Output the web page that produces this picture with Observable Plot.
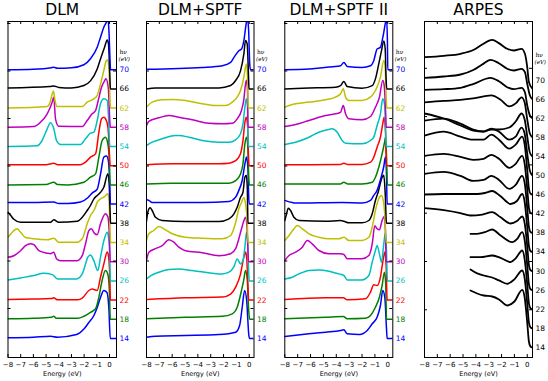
<!DOCTYPE html>
<html><head><meta charset="utf-8">
<script src="https://cdn.jsdelivr.net/npm/d3@7"></script>
<script src="https://cdn.jsdelivr.net/npm/@observablehq/plot@0.6"></script>
<style>
body{margin:0;background:#fff;}
#chart{position:relative;width:548px;height:381px;font-family:"DejaVu Sans",sans-serif;}
#chart > svg{position:absolute;top:0;overflow:visible;}
</style></head><body><div id="chart"></div>
<script>
// photon energies (eV), bottom to top
const hv = [14,18,22,26,30,34,38,42,46,50,54,58,62,66,70];
const lineColors = ["#0000ff","#008000","#ff0000","#00bfbf","#bf00bf","#bfbf00","#000000",
                    "#0000ff","#008000","#ff0000","#00bfbf","#bf00bf","#bfbf00","#000000","#0000ff"];
const energyTicks = [-8,-7,-6,-5,-4,-3,-2,-1,0];
const titles = ["DLM","DLM+SPTF","DLM+SPTF II","ARPES"];

// spectra: [energy (eV), intensity (a.u.)], one list per hv in the order above
const dlmCurves = [
 [[-8,0.7],[-6,1.3],[-4.65,2.3],[-4.1,1.3],[-2.6,4],[-2.0,9.7],[-1.63,16],[-1.23,23],[-0.97,31],[-0.71,41],[-0.45,48],[-0.2,46],[-0.05,30],[0.06,0],[0.6,0]],
 [[-8,0.5],[-6,1],[-4.6,2],[-4.39,3],[-4.2,1],[-2.5,1],[-2.02,3],[-1.5,7],[-1.1,10.5],[-0.84,22],[-0.58,39],[-0.32,48.8],[-0.13,45],[0.0,25],[0.06,0],[0.6,0]],
 [[-8,0.6],[-6,1],[-4.6,1.5],[-4.39,2.3],[-4.1,0.3],[-2.5,0.3],[-2.15,2],[-1.63,9.6],[-1.37,11],[-0.97,9.6],[-0.71,23],[-0.45,36],[-0.18,48],[-0.08,44],[0.03,20],[0.07,0],[0.6,0]],
 [[-8,1],[-7,3],[-5.96,5.3],[-5.2,7.7],[-4.5,6.3],[-4.1,2],[-2.6,2],[-2.15,7],[-1.89,17],[-1.71,23.7],[-1.5,26],[-1.23,20],[-0.92,10.4],[-0.71,23.7],[-0.45,40],[-0.18,48.7],[-0.08,44],[0.03,20],[0.07,0],[0.6,0]],
 [[-8,4.5],[-7.54,6],[-7.01,11],[-6.62,16],[-6.23,18],[-5.96,17],[-5.57,11],[-4.91,8.5],[-4.65,8],[-4.39,9.5],[-4.18,3],[-3.86,1],[-2.55,1],[-2.15,6],[-1.89,18],[-1.63,31],[-1.44,33],[-1.16,28],[-0.97,27],[-0.71,38],[-0.32,48],[-0.13,45],[0.0,22],[0.06,0],[0.6,0]],
 [[-8,5.3],[-7.67,10.3],[-7.28,13.7],[-7.01,10.3],[-6.62,5],[-5.96,3.7],[-4.91,2.7],[-4.39,4.3],[-4.0,0.3],[-2.55,0.3],[-2.15,3.7],[-1.76,18.7],[-1.5,27],[-1.16,33.7],[-0.97,40.3],[-0.71,43.7],[-0.45,45.3],[-0.13,48.7],[-0.03,40],[0.05,10],[0.08,0],[0.6,0]],
 [[-8,11],[-7.8,8],[-7.54,4],[-7.01,1],[-4.65,1],[-4.39,3.5],[-4.0,1],[-2.55,2],[-2.15,6],[-1.76,12.8],[-1.5,17.8],[-1.23,24.5],[-0.97,27.8],[-0.71,31],[-0.45,36],[-0.13,49.5],[-0.03,40],[0.05,10],[0.08,0],[0.6,0]],
 [[-8,1.6],[-6,1.5],[-4.39,2],[-4.0,0.5],[-3.3,0.5],[-2.29,2],[-1.71,6.3],[-1.37,11],[-0.97,15],[-0.71,30],[-0.45,47],[-0.24,48],[-0.1,44],[0.02,20],[0.07,0],[0.6,0]],
 [[-8,0],[-5,0.3],[-4.39,2.7],[-4.1,0.3],[-3.3,0],[-2.02,2.7],[-1.5,7.7],[-1.1,11],[-0.84,27.7],[-0.58,44.4],[-0.32,47.7],[-0.13,41],[0.0,20],[0.05,0],[0.6,0]],
 [[-8,1],[-5,1],[-4.39,2.5],[-4.1,1],[-2.3,1],[-1.89,3.5],[-1.5,8.5],[-1.1,11.8],[-0.84,33.5],[-0.63,47],[-0.45,48.5],[-0.24,45],[-0.1,35],[0.0,10],[0.05,0],[0.6,0]],
 [[-8,0],[-5.7,0.7],[-5.31,6],[-4.91,17.7],[-4.65,23.7],[-4.39,17.7],[-4.18,6],[-3.86,2],[-2.3,2],[-1.89,7.7],[-1.5,13.3],[-1.23,14.3],[-0.97,26],[-0.71,42.7],[-0.45,47.7],[-0.18,46],[-0.08,30],[0.02,0],[0.6,0]],
 [[-8,0],[-5.96,0.7],[-5.44,5],[-4.91,13.5],[-4.52,25],[-4.4,30],[-4.25,8],[-4.0,1],[-2.15,0.7],[-1.76,6.8],[-1.37,13.5],[-1.1,16.8],[-0.89,26.8],[-0.63,40],[-0.37,47],[-0.29,48.5],[-0.1,40],[0.03,5],[0.06,0],[0.6,0]],
 [[-8,0],[-4.91,1.6],[-4.7,5],[-4.52,14],[-4.42,17],[-4.3,8],[-4.15,1.5],[-3.5,1.5],[-2.15,1.5],[-1.76,6],[-1.23,9.3],[-0.97,12.6],[-0.71,24],[-0.45,37.6],[-0.24,47.6],[-0.13,48],[-0.03,35],[0.05,5],[0.08,0],[0.6,0]],
 [[-8,1],[-4.7,2.4],[-4.4,3],[-4.0,1.5],[-3,1],[-2.02,3.4],[-1.5,8],[-0.97,20],[-0.71,30],[-0.39,41.7],[-0.18,49],[-0.08,45],[0.02,15],[0.07,0],[0.6,0]],
 [[-8,0],[-6,0.5],[-4.6,2],[-4.4,2.5],[-4.1,1.5],[-3,2],[-2.02,5],[-1.5,11],[-0.97,22.5],[-0.71,32.5],[-0.45,42.5],[-0.24,48],[-0.15,52],[-0.05,40],[0.04,10],[0.08,0],[0.6,0]]
];

const sptfCurves = [
 [[-8,1.3],[-7.3,2.3],[-4.96,3],[-2.36,4],[-1.06,6.3],[-0.75,13],[-0.55,31],[-0.36,48],[-0.2,38],[-0.03,3],[0.03,0],[0.6,0]],
 [[-8,0.5],[-4.96,2],[-2.1,3],[-1.32,5.5],[-0.94,12],[-0.6,29],[-0.42,40],[-0.29,48.8],[-0.16,40],[-0.05,10],[0.03,0],[0.6,0]],
 [[-8,0.6],[-4.96,2.3],[-2.1,3],[-1.45,6],[-1.06,13],[-0.68,26],[-0.42,43],[-0.29,48],[-0.2,42],[-0.1,15],[-0.05,0],[0.6,0]],
 [[-8,2],[-7.69,5],[-7.04,8.7],[-6.26,11.3],[-5.48,12],[-4.44,10.3],[-2.88,7.7],[-2.1,7],[-1.58,8.7],[-1.19,14.3],[-0.94,22],[-0.68,17],[-0.49,20.3],[-0.34,33.7],[-0.21,48.7],[-0.12,40],[-0.05,10],[0.0,0],[0.6,0]],
 [[-8,1],[-7.82,9.5],[-7.3,13],[-6.78,16],[-6.26,22],[-5.87,19.5],[-5.48,14.5],[-4.96,11],[-3.66,9],[-2.36,6],[-1.45,8],[-1.06,13],[-0.81,23],[-0.6,33],[-0.42,41],[-0.29,44.5],[-0.18,35],[-0.1,10],[-0.06,0],[0.6,0]],
 [[-8,2],[-7.82,8.7],[-7.43,12],[-7.04,16],[-6.65,13.7],[-6,8.7],[-4.96,5.3],[-3.66,4.3],[-2.1,3.7],[-1.45,7],[-1.06,20],[-0.81,33.7],[-0.6,40],[-0.42,45],[-0.29,38.7],[-0.15,20],[-0.1,0],[0.6,0]],
 [[-8,2],[-7.88,12],[-7.72,15.5],[-7.56,12.8],[-7.3,6],[-6.78,2.8],[-4.96,1.8],[-2.36,1.8],[-1.58,4.5],[-1.19,9.5],[-0.94,16],[-0.68,26],[-0.49,31],[-0.34,46],[-0.23,48],[-0.15,35],[-0.1,0],[0.6,0]],
 [[-8,4.3],[-7.82,3.7],[-7.56,1.7],[-6.26,1.7],[-3.66,1.7],[-1.58,2.7],[-1.06,7],[-0.81,13.7],[-0.55,23.6],[-0.34,40],[-0.21,47],[-0.1,35],[-0.05,10],[0.0,0],[0.6,0]],
 [[-8,1],[-6,1.7],[-1.58,1.7],[-1.06,4.3],[-0.68,11],[-0.49,21],[-0.34,41],[-0.21,47.7],[-0.12,40],[-0.03,5],[0.01,0],[0.6,0]],
 [[-8,1],[-6,2],[-2.36,2],[-1.58,2.5],[-1.06,5],[-0.68,12],[-0.49,25],[-0.34,43.5],[-0.23,48.5],[-0.13,40],[-0.06,10],[-0.02,0],[0.6,0]],
 [[-8,1],[-7.56,4.3],[-6.78,7.7],[-5.74,11],[-5.48,11],[-4.7,9.3],[-3.66,6],[-2.36,4.3],[-1.58,4.3],[-1.06,6.7],[-0.68,12.7],[-0.49,22.7],[-0.34,39],[-0.23,47.7],[-0.14,40],[-0.1,10],[-0.05,0],[0.6,0]],
 [[-8,1.7],[-7.82,6],[-7.04,9.5],[-6.26,11.8],[-5.48,10],[-4.44,7.5],[-3.14,4],[-2.1,3.5],[-1.32,4],[-0.94,8.5],[-0.6,17],[-0.42,28],[-0.29,43.5],[-0.21,47],[-0.13,35],[-0.1,0],[0.6,0]],
 [[-8,1],[-7.56,6],[-6.78,8.3],[-6,8.6],[-4.96,7.6],[-3.66,4.3],[-2.62,2.6],[-1.84,2.6],[-1.32,6],[-0.94,11],[-0.68,17.6],[-0.42,31],[-0.29,41],[-0.21,44],[-0.13,30],[-0.08,0],[0.6,0]],
 [[-8,0],[-7.3,1],[-4.96,1],[-2.36,1],[-1.45,3.4],[-1.06,8.4],[-0.68,18],[-0.42,35],[-0.29,48.4],[-0.16,45],[-0.05,10],[-0.02,0],[0.6,0]],
 [[-8,0.5],[-3.66,2.3],[-2.1,4],[-1.45,7.3],[-1.19,12.3],[-0.81,19],[-0.6,20.7],[-0.42,29],[-0.25,45],[-0.15,52],[-0.05,40],[0.04,5],[0.1,0],[0.6,0]]
];

const sptf2Curves = [
 [[-8,2],[-6.12,4.7],[-4.83,6.3],[-3.67,8],[-3.41,8.7],[-3.15,4.7],[-2.2,4],[-1.6,8],[-1.21,14.7],[-0.83,21.3],[-0.57,33],[-0.39,48],[-0.23,41],[-0.1,10],[-0.05,0],[0.6,0]],
 [[-8,0.5],[-4.83,2],[-3.45,2.8],[-3.15,0.5],[-1.73,1],[-1.34,3.8],[-0.96,12],[-0.65,22],[-0.44,33.8],[-0.26,47],[-0.16,35],[-0.1,0],[0.6,0]],
 [[-8,0.6],[-4.83,2.3],[-3.45,2.3],[-3.15,0.3],[-1.73,1.3],[-1.34,8],[-1.09,15.3],[-0.83,14.6],[-0.57,23],[-0.39,38],[-0.23,48],[-0.13,35],[-0.05,0],[0.6,0]],
 [[-8,2],[-7.42,3.7],[-6.9,7],[-6.12,10.4],[-5.35,11],[-4.57,9.7],[-3.8,7],[-3.41,5.4],[-3.15,1],[-2,1],[-1.47,5.4],[-1.21,18.7],[-0.96,30.4],[-0.83,35.4],[-0.65,27],[-0.49,18.7],[-0.31,37],[-0.18,48.7],[-0.1,30],[-0.03,0],[0.6,0]],
 [[-8,1.2],[-7.67,6.2],[-7.16,9.5],[-6.64,14.5],[-6.25,21.2],[-5.87,17.8],[-5.35,11.2],[-4.57,7.9],[-3.67,7.9],[-3.41,7.2],[-3.15,2.9],[-2,2.9],[-1.47,6.2],[-1.21,17.9],[-1.01,36],[-0.83,32.9],[-0.65,31.9],[-0.44,41.2],[-0.28,45.2],[-0.18,30],[-0.13,0],[0.6,0]],
 [[-8,2],[-7.67,7],[-7.29,13.7],[-7.03,17],[-6.64,13.7],[-6.12,8.7],[-5.35,5.3],[-4.57,3.7],[-3.8,3.7],[-3.41,5.3],[-3.02,2],[-2,2],[-1.47,5.3],[-1.21,15.3],[-0.96,32],[-0.7,43.7],[-0.49,47],[-0.31,38.7],[-0.2,20],[-0.13,0],[0.6,0]],
 [[-8,2.8],[-7.86,9.5],[-7.73,15],[-7.55,12.8],[-7.29,6],[-6.9,2.8],[-4.83,2],[-3.67,2.8],[-3.41,2],[-3.02,0.5],[-2,0.5],[-1.47,2.8],[-1.21,9.5],[-0.96,22.8],[-0.75,31],[-0.44,46],[-0.31,48],[-0.2,30],[-0.1,0],[0.6,0]],
 [[-8,3.7],[-7.42,1.5],[-7.16,1],[-3.54,1.7],[-2,1],[-1.34,3.7],[-1.09,8.7],[-0.83,13.7],[-0.57,24.3],[-0.31,37.6],[-0.18,47],[-0.1,30],[-0.05,0],[0.6,0]],
 [[-8,1],[-3.7,1],[-3.41,2.7],[-3.1,1],[-2,1],[-1.21,2.7],[-0.96,7.7],[-0.7,17.7],[-0.44,31],[-0.23,44],[-0.18,47.7],[-0.1,30],[-0.03,0],[0.6,0]],
 [[-8,1],[-3.7,1.2],[-3.41,2.5],[-3.1,1.2],[-2,1.2],[-1.34,3.5],[-1.09,8.5],[-0.83,18.5],[-0.57,28.5],[-0.39,42],[-0.28,48.5],[-0.18,35],[-0.1,0],[0.6,0]],
 [[-8,2],[-7.16,4.3],[-6.12,9.3],[-5.35,14.3],[-4.7,16.7],[-4.32,17.7],[-3.93,14.3],[-3.54,6],[-3.28,3.3],[-2,2.7],[-1.34,6],[-1.09,9.3],[-0.83,21],[-0.57,32.7],[-0.39,47.7],[-0.25,42],[-0.15,10],[-0.12,0],[0.6,0]],
 [[-8,0.8],[-7.16,2.8],[-6.12,6.8],[-4.83,11.8],[-4.06,13.5],[-3.67,15],[-3.46,21.8],[-3.28,13.5],[-3.02,8.5],[-2,7.5],[-1.34,10.8],[-0.96,20],[-0.65,30],[-0.39,46.8],[-0.28,42],[-0.15,10],[-0.12,0],[0.6,0]],
 [[-8,1],[-7.42,3.6],[-6.12,6],[-4.83,8.3],[-4.06,11],[-3.67,14.3],[-3.46,19.3],[-3.28,11],[-3.02,7.6],[-2,7.6],[-1.34,11],[-0.96,17.6],[-0.57,31],[-0.31,47.6],[-0.2,40],[-0.12,10],[-0.08,0],[0.6,0]],
 [[-8,0],[-6.12,0.8],[-4.06,1.7],[-3.67,3.3],[-3.41,7.3],[-3.15,2.3],[-2,0.7],[-1.21,3.3],[-0.96,10],[-0.7,25],[-0.49,38],[-0.31,48],[-0.2,40],[-0.13,10],[-0.08,0],[0.6,0]],
 [[-8,0],[-6.12,0.7],[-4.32,3],[-3.67,4],[-3.41,7.3],[-3.15,3.3],[-2,2.3],[-1.34,4],[-1.09,9],[-0.83,20.7],[-0.57,22.3],[-0.39,32],[-0.18,47],[-0.1,52],[-0.03,30],[0.0,0],[0.6,0]]
];

const arpesCurves = [
 [[-4.42,57],[-3.9,54],[-3.38,52],[-2.73,51],[-2.2,48],[-1.56,42],[-1.0,46],[-0.39,57.7],[-0.2,50],[0,25],[0.13,6],[0.25,1],[0.41,0]],
 [[-4.42,58.9],[-3.9,55],[-3.38,52.9],[-2.73,50.9],[-2.2,48],[-1.56,44.6],[-1.0,49],[-0.39,57.9],[-0.2,50],[0,25],[0.13,6],[0.25,1],[0.41,0]],
 [[-4.42,52.1],[-3.64,52.1],[-2.73,53.8],[-2.0,51],[-1.3,47.1],[-0.9,51],[-0.39,58.8],[-0.2,50],[0,25],[0.13,6],[0.25,1],[0.41,0]],
 [[-4.42,56.4],[-3.9,56.4],[-3.3,58],[-2.73,60.7],[-2.1,55],[-1.17,48],[-0.8,51],[-0.39,58],[-0.2,50],[0,25],[0.13,6],[0.25,1],[0.41,0]],
 [[-8,63],[-6.5,61],[-5.2,58],[-4.42,55.6],[-3.5,56.5],[-2.73,58.9],[-2.1,54],[-1.3,47.6],[-0.8,50],[-0.39,54.6],[-0.2,48],[0,25],[0.13,6],[0.25,1],[0.41,0]],
 [[-8,57.5],[-6.5,58],[-5.2,58],[-3.9,58],[-3.3,59],[-2.73,61],[-2.1,56],[-1.3,48],[-0.8,51],[-0.39,58],[-0.2,50],[0,25],[0.13,6],[0.25,1],[0.41,0]],
 [[-8,59],[-6.5,61],[-5.2,57],[-4.2,52],[-3.4,53],[-2.8,57],[-2.2,53],[-1.4,44],[-0.9,48],[-0.4,57],[-0.2,50],[0,25],[0.13,6],[0.25,1],[0.41,0]],
 [[-8,58],[-6.5,60],[-5.2,57],[-4.2,54],[-3.4,55],[-2.8,59],[-2.2,55],[-1.4,46],[-0.9,50],[-0.4,58],[-0.2,50],[0,25],[0.13,6],[0.25,1],[0.41,0]],
 [[-8,59],[-6.5,63],[-5.2,58],[-4.2,55],[-3.4,55],[-2.8,60],[-2.2,55],[-1.4,46],[-0.9,50],[-0.4,58],[-0.2,50],[0,25],[0.13,6],[0.25,1],[0.41,0]],
 [[-8,55],[-6.5,57],[-5.2,52],[-4.2,46],[-3.4,44],[-2.8,47],[-2.2,44],[-1.4,36],[-0.9,39],[-0.44,48],[-0.2,42],[0,22],[0.2,5],[0.41,0]],
 [[-8,43],[-6.5,38],[-5.2,31],[-4.2,26],[-3.4,25],[-2.8,27],[-2.2,27],[-1.4,29],[-0.9,35],[-0.44,43],[-0.2,37],[0,20],[0.2,4],[0.41,0]],
 [[-8,35],[-6.5,36.5],[-5.2,37.5],[-4.2,39],[-2.8,42],[-2.1,38],[-1.4,31],[-0.9,34],[-0.44,40],[-0.2,35],[0,18],[0.2,4],[0.41,0]],
 [[-8,28.5],[-6.49,29.1],[-5.19,30.5],[-4.16,34.5],[-2.86,40.5],[-2.21,37.1],[-1.56,31.1],[-1.04,29.1],[-0.44,30.5],[-0.18,26],[0,12.8],[0.21,2.8],[0.41,0]],
 [[-8,21.4],[-6.49,22.7],[-5.19,24.7],[-4.16,29.4],[-3.51,34.7],[-2.86,39.4],[-2.21,36],[-1.56,30.4],[-1.04,28.7],[-0.44,30.4],[-0.18,27],[0,15.4],[0.21,3.7],[0.41,0]],
 [[-8,23],[-6.49,24.3],[-5.19,26.3],[-4.16,30.3],[-3.51,35.6],[-2.73,40.3],[-2.21,37],[-1.56,31.3],[-1.04,29.6],[-0.44,31.3],[-0.18,26.3],[0,13],[0.13,-2],[0.41,-8.7]]
];

// unlabelled intensity-axis ticks (a.u.)
const dlmSideTicks = [30,77.5,125,172.5,220,267.5,315];
const arpesSideTicks = [37.7,86,134.3,182.6,230.9,279.2];

const chart = document.getElementById("chart");

function panel({title, curves, left, width, frameLeft, frameRight, xMax, step, yDomain, colored, sideTicks, lineWidth, hvDy}) {
  const rows = curves.flatMap((pts, i) => pts.map(([e, v]) => ({hv: hv[i], e, v: v + i * step})));
  const labels = hv.map((h, i) => ({hv: h, y: i * step}));
  const frameW = frameRight - frameLeft;
  const frameH = 357 - 21;
  const plot = Plot.plot({
    width, height: 381,
    marginLeft: frameLeft - left, marginRight: left + width - frameRight,
    marginTop: 21, marginBottom: 24,
    style: {fontFamily: "DejaVu Sans, sans-serif", background: "transparent", overflow: "visible", color: "#000"},
    x: {domain: [-8, xMax], axis: null},
    y: {domain: yDomain, axis: null},
    color: {type: "ordinal", domain: hv, range: lineColors},
    marks: [
      Plot.line(rows, {x: "e", y: "v", z: "hv", stroke: colored ? "hv" : "#000", strokeWidth: lineWidth, curve: "monotone-x", clip: true}),
      Plot.frame({stroke: "#000", strokeWidth: 1}),
      Plot.tickX(energyTicks, {x: d => d, insetTop: frameH - 3, stroke: "#000"}),
      Plot.tickX(energyTicks, {x: d => d, insetBottom: frameH - 3, stroke: "#000"}),
      Plot.tickY(sideTicks, {y: d => d, insetRight: frameW - 3, stroke: "#000"}),
      Plot.tickY(sideTicks, {y: d => d, insetLeft: frameW - 3, stroke: "#000"}),
      Plot.text(energyTicks, {x: d => d, frameAnchor: "bottom", lineAnchor: "middle", dy: 7, fontSize: 7, fill: "#000", text: d => d < 0 ? "\u2212" + Math.abs(d) : String(d)}),
      Plot.text(["Energy (eV)"], {frameAnchor: "bottom", lineAnchor: "middle", dy: 16, fontSize: 6.5, fill: "#000"}),
      Plot.text([title], {frameAnchor: "top", lineAnchor: "middle", dy: -11, fontSize: 15.5, fill: "#000"}),
      Plot.text(labels, {y: "y", frameAnchor: "right", lineAnchor: "middle", dx: 3, textAnchor: "start", fontSize: 7.5, text: d => String(d.hv), fill: colored ? "hv" : "#000"}),
      Plot.text(["h\u03bd"], {frameAnchor: "top-right", lineAnchor: "middle", dx: 3, dy: hvDy, textAnchor: "start", fontSize: 6, fill: "#000", fontFamily: "DejaVu Serif"}),
      Plot.text(["(eV)"], {frameAnchor: "top-right", lineAnchor: "middle", dx: 2, dy: hvDy + 6.5, textAnchor: "start", fontSize: 5.5, fill: "#000", fontStyle: "italic", fontFamily: "DejaVu Serif"})
    ]
  });
  plot.style.left = left + "px";
  chart.appendChild(plot);
}

panel({title: titles[0], curves: dlmCurves, left: 0, width: 138, frameLeft: 7.5, frameRight: 116, xMax: 0.55, step: 19.2, yDomain: [-19, 317], colored: true, sideTicks: dlmSideTicks, lineWidth: 1.5, hvDy: 31});
panel({title: titles[1], curves: sptfCurves, left: 138, width: 138, frameLeft: 146, frameRight: 253.5, xMax: 0.37, step: 19.2, yDomain: [-19, 317], colored: true, sideTicks: dlmSideTicks, lineWidth: 1.5, hvDy: 31});
panel({title: titles[2], curves: sptf2Curves, left: 276, width: 138, frameLeft: 284.3, frameRight: 392.3, xMax: 0.39, step: 19.2, yDomain: [-19, 317], colored: true, sideTicks: dlmSideTicks, lineWidth: 1.5, hvDy: 31});
panel({title: titles[3], curves: arpesCurves, left: 414, width: 134, frameLeft: 424, frameRight: 532, xMax: 0.41, step: 19.1, yDomain: [-10, 326], colored: false, sideTicks: arpesSideTicks, lineWidth: 1.8, hvDy: 34});
</script></body></html>
